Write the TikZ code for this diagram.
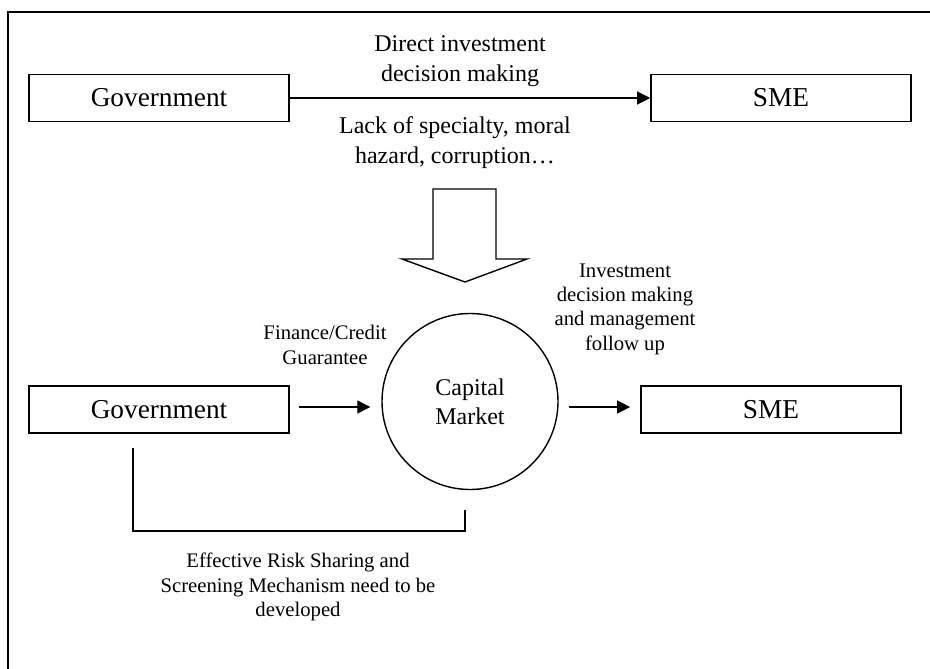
\documentclass[tikz,border=0pt]{standalone}
\usepackage{fontspec}
\setmainfont{Liberation Serif}
\usetikzlibrary{arrows.meta}
\begin{document}
\begin{tikzpicture}[x=1pt,y=-1pt,
  box/.style={draw,line width=1.6pt,minimum width=260pt,minimum height=47pt,inner sep=0pt,font=\fontsize{27.3}{32}\selectfont},
  arr/.style={line width=1.2pt,-{Triangle[length=13pt,width=13pt]}},
  lblbig/.style={align=center,inner sep=0pt,font=\fontsize{24}{30}\selectfont},
  lblsmall/.style={align=center,inner sep=0pt,font=\fontsize{20.7}{24.3}\selectfont}]
\useasboundingbox (0,0) rectangle (930,669);
\draw[line width=2pt] (8,669) -- (8,12) -- (930,12);
% top row
\node[box] (gov1) at (159,98) {Government};
\node[box] (sme1) at (781,98) {SME};
\draw[arr] (gov1) -- (sme1);
\node[lblbig] (l1) at (460,61) {Direct investment\\decision making};
\node[lblbig] (l2) at (455,143) {Lack of specialty, moral\\hazard, corruption…};
% hollow arrow
\draw[line width=1.4pt,line join=miter] (433,189) -- (496,189) -- (496,259) -- (527,259) -- (465,282) -- (402,259) -- (433,259) -- cycle;
% bottom row
\node[box] (gov2) at (159,409.5) {Government};
\node[box] (sme2) at (771,409.5) {SME};
\node[draw,circle,line width=1.4pt,minimum size=176pt,inner sep=0pt,align=center,font=\fontsize{24}{29}\selectfont] (cm) at (470,401.5) {Capital\\Market};
\draw[arr,shorten <=9pt,shorten >=11pt] (gov2.east |- 0,407) -- (cm.west |- 0,407);
\draw[arr,shorten <=10pt,shorten >=10pt] (cm.east |- 0,407) -- (sme2.west |- 0,407);
\node[lblsmall] (l3) at (325,345) {Finance/Credit\\Guarantee};
\node[lblsmall] (l4) at (625,309) {Investment\\decision making\\and management\\follow up};
% bracket
\coordinate (b1) at (133,448);
\coordinate (b2) at (465,510);
\draw[line width=1.5pt] (b1) -- (b1 |- 0,531) -- (b2 |- 0,531) -- (b2);
\node[lblsmall] (l5) at (298,587) {Effective Risk Sharing and\\Screening Mechanism need to be\\developed};
\end{tikzpicture}
\end{document}
